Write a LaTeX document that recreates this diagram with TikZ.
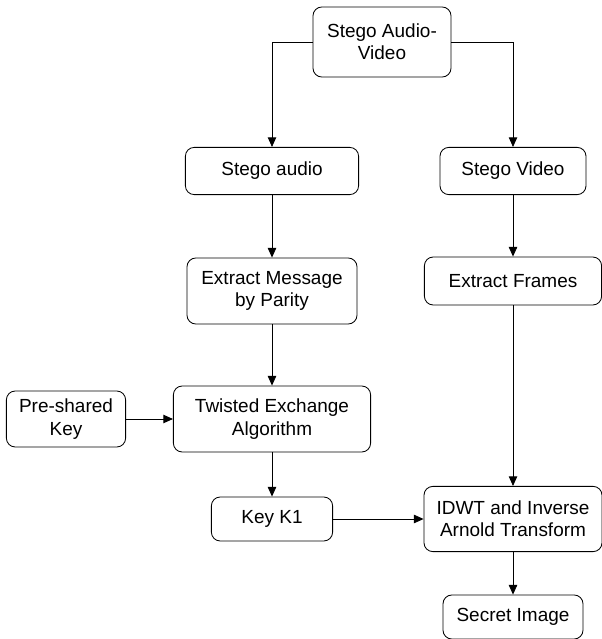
\documentclass[tikz,border=0pt]{standalone}
\usepackage{fontspec}
\setmainfont{Liberation Sans}
\usepackage{tikz}
\usetikzlibrary{arrows.meta, positioning}

\begin{document}
\begin{tikzpicture}[
        node distance = 3cm,
        every node/.style={font=\fontsize{13.5pt}{15.8pt}\selectfont},
        box/.style={rectangle, draw, rounded corners=0.22cm, align=center, line width=0.6pt, inner sep=2pt},
        arrow/.style={-{Triangle[length=2.4mm, width=2.1mm]}, line width=0.6pt}
    ]
        \useasboundingbox (0,0) rectangle (15.025,-15.975);

        \node[box, minimum width=3.45cm, minimum height=1.75cm] (stegoav) at (9.55,-1.05) {Stego Audio-\\Video};
        \node[box, minimum width=4.33cm, minimum height=1.18cm, below of=stegoav, xshift=-2.75cm, yshift=-0.225cm] (audio) {Stego audio};
        \node[box, minimum width=3.65cm, minimum height=1.18cm, right of=audio, xshift=3.025cm] (video) {Stego Video};
        \node[box, minimum width=4.25cm, minimum height=1.65cm, below of=audio] (parity) {Extract Message\\by Parity};
        \node[box, minimum width=4.43cm, minimum height=1.2cm, below of=video, yshift=0.25cm] (frames) {Extract Frames};
        \node[box, minimum width=4.93cm, minimum height=1.65cm, below of=parity, yshift=-0.2cm] (twisted) {Twisted Exchange\\Algorithm};
        \node[box, minimum width=2.98cm, minimum height=1.4cm, left of=twisted, xshift=-2.15cm] (preshared) {Pre-shared\\Key};
        \node[box, minimum width=3.03cm, minimum height=1.1cm, below of=twisted, yshift=0.5cm] (keyk) {Key K1};
        \node[box, minimum width=4.45cm, minimum height=1.63cm, right of=keyk, xshift=3.025cm] (idwt) {IDWT and Inverse\\Arnold Transform};
        \node[box, minimum width=3.5cm, minimum height=1.1cm, below of=idwt, yshift=0.55cm] (secret) {Secret Image};

        \draw[arrow] (stegoav.west) -| (audio.north);
        \draw[arrow] (stegoav.east) -| (video.north);
        \draw[arrow] (audio) -- (parity);
        \draw[arrow] (video) -- (frames);
        \draw[arrow] (parity) -- (twisted);
        \draw[arrow] (preshared) -- (twisted);
        \draw[arrow] (twisted) -- (keyk);
        \draw[arrow] (frames) -- (idwt);
        \draw[arrow] (keyk) -- (idwt);
        \draw[arrow] (idwt) -- (secret);
    \end{tikzpicture}
\end{document}
